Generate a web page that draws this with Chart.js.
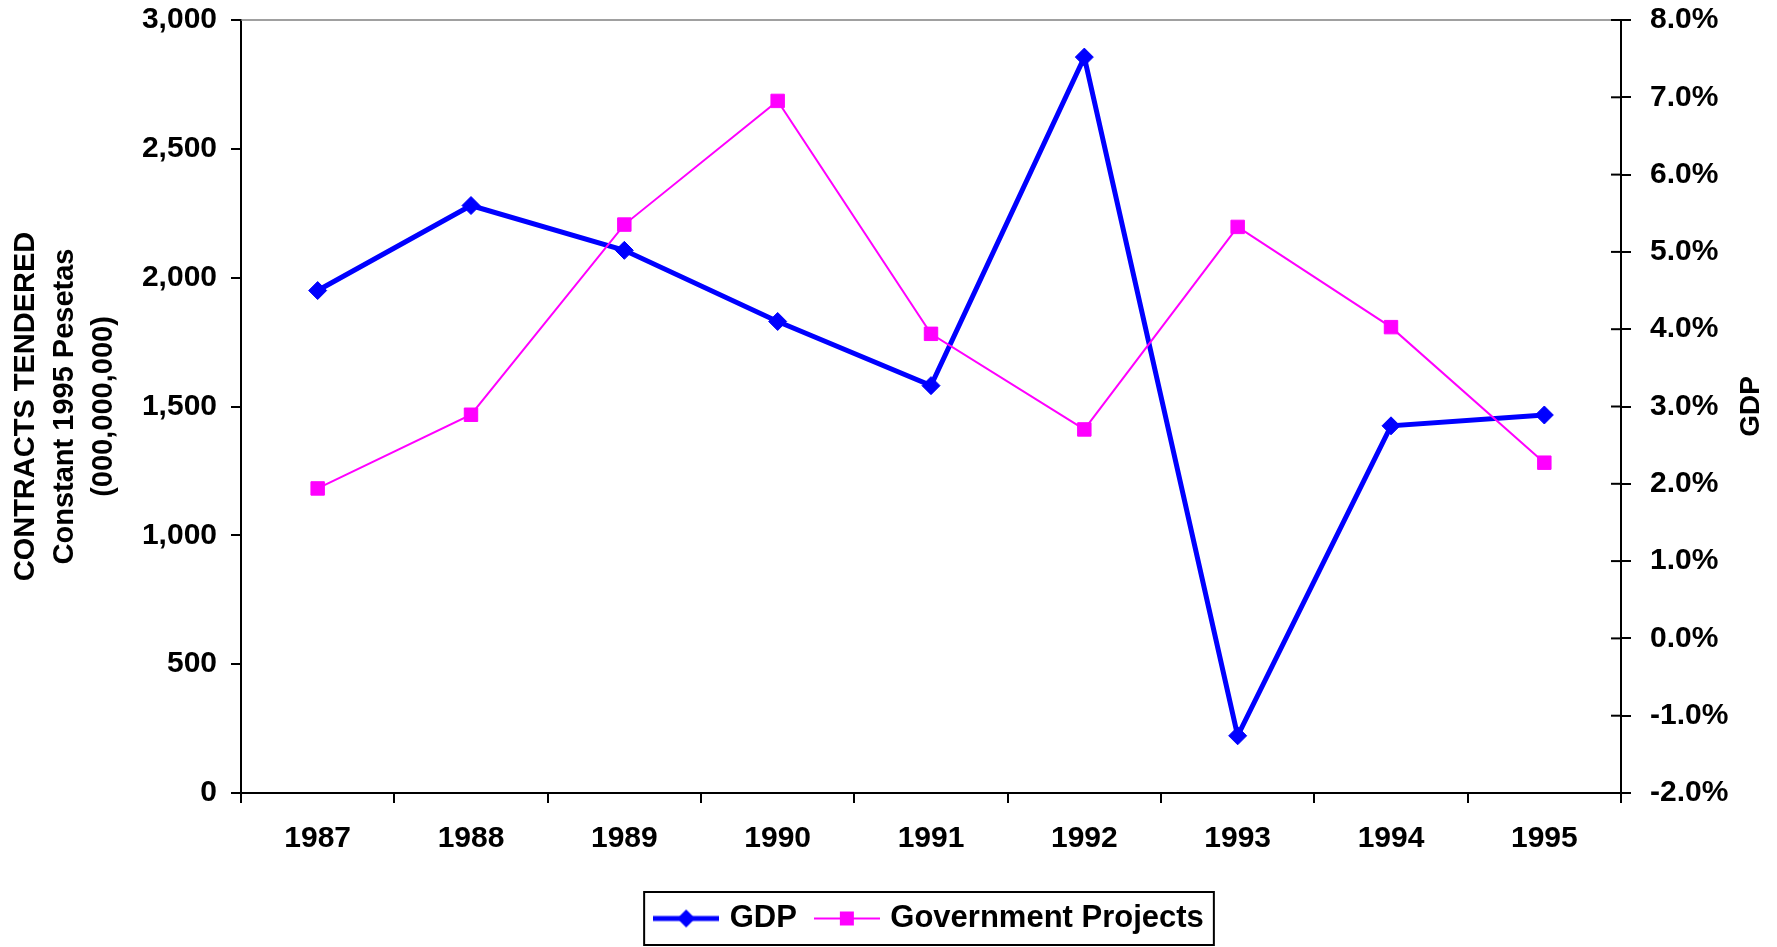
<!DOCTYPE html>
<html>
<head>
<meta charset="utf-8">
<script src="https://cdn.jsdelivr.net/npm/chart.js@4/dist/chart.umd.min.js"></script>
<style>
  html, body { margin: 0; padding: 0; background: #fff; }
  #wrap { width: 1777px; height: 947px; position: relative; }
</style>
</head>
<body>
<div id="wrap"><canvas id="c" width="1777" height="947"></canvas></div>
<script>
// ---- Data ----
const years = ['1987', '1988', '1989', '1990', '1991', '1992', '1993', '1994', '1995'];
const gdpPct = [4.5, 5.6, 5.02, 4.1, 3.27, 7.52, -1.26, 2.75, 2.89];
const govProjects = [1182, 1468, 2206, 2686, 1782, 1411, 2197, 1808, 1282];
const leftTitle = ['CONTRACTS TENDERED', 'Constant 1995 Pesetas', '(000,000,000)'];
const rightTitle = 'GDP';
const seriesNames = ['GDP', 'Government Projects'];

const FONT = '"Liberation Sans", Arial, sans-serif';
const TICK_FONT = { family: FONT, size: 30, weight: 'bold' };

function legendSample(color, lineW, style, r) {
  const c = document.createElement('canvas');
  c.width = 66; c.height = 24;
  const g = c.getContext('2d');
  g.strokeStyle = color; g.fillStyle = color; g.lineWidth = lineW;
  g.beginPath(); g.moveTo(0, 12); g.lineTo(66, 12); g.stroke();
  g.beginPath();
  if (style === 'diamond') {
    g.moveTo(33 - r, 12); g.lineTo(33, 12 - r); g.lineTo(33 + r, 12); g.lineTo(33, 12 + r); g.closePath();
  } else {
    g.rect(33 - r, 12 - r, 2 * r, 2 * r);
  }
  g.fill();
  return c;
}
const samples = [legendSample('#0000FF', 5, 'diamond', 9), legendSample('#FF00FF', 2, 'square', 7)];

const extras = {
  id: 'extras',
  afterDraw(chart) {
    const ctx = chart.ctx;
    const a = chart.chartArea;
    ctx.save();
    // top plot border
    ctx.strokeStyle = '#808080'; ctx.lineWidth = 1.5;
    ctx.beginPath(); ctx.moveTo(a.left, a.top); ctx.lineTo(a.right, a.top); ctx.stroke();
    // inner half of the right axis tick marks
    const y1 = chart.scales.y1;
    ctx.strokeStyle = '#000'; ctx.lineWidth = 2;
    y1.ticks.forEach((t, i) => {
      const py = y1.getPixelForTick(i);
      ctx.beginPath(); ctx.moveTo(y1.left - 10, py); ctx.lineTo(y1.left, py); ctx.stroke();
    });
    // right axis title, reading bottom to top
    ctx.fillStyle = '#000';
    ctx.font = 'bold 28px ' + FONT;
    ctx.textAlign = 'center'; ctx.textBaseline = 'middle';
    ctx.translate(y1.right - 26, (a.top + a.bottom) / 2);
    ctx.rotate(-Math.PI / 2);
    ctx.fillText(rightTitle, 0, 0);
    ctx.restore();
    // legend border
    const lg = chart.legend;
    if (lg && lg.legendHitBoxes && lg.legendHitBoxes.length) {
      const hb = lg.legendHitBoxes;
      const l = Math.min(...hb.map(h => h.left)) - 14;
      const r = Math.max(...hb.map(h => h.left + h.width)) + 10;
      const t = Math.min(...hb.map(h => h.top)) - 11;
      const b = Math.max(...hb.map(h => h.top + h.height)) + 11;
      ctx.save();
      ctx.strokeStyle = '#000'; ctx.lineWidth = 2;
      ctx.strokeRect(l, t, r - l, b - t);
      ctx.restore();
    }
  }
};

function fitY(width) {
  return function (s) {
    s.width = width;
    s.paddingTop = 0;
    s.paddingBottom = 0;
  };
}

new Chart(document.getElementById('c'), {
  type: 'line',
  data: {
    labels: years,
    datasets: [
      {
        label: seriesNames[0],
        data: gdpPct,
        yAxisID: 'y1',
        borderColor: '#0000FF',
        backgroundColor: '#0000FF',
        borderWidth: 5,
        pointStyle: 'rectRot',
        pointRadius: 9,
        pointBorderWidth: 1,
        tension: 0,
        order: 1
      },
      {
        label: seriesNames[1],
        data: govProjects,
        yAxisID: 'y',
        borderColor: '#FF00FF',
        backgroundColor: '#FF00FF',
        borderWidth: 2,
        pointStyle: 'rect',
        pointRadius: 9.5,
        pointBorderWidth: 1,
        tension: 0,
        order: 0
      }
    ]
  },
  options: {
    responsive: false,
    animation: false,
    devicePixelRatio: 1,
    layout: { padding: { top: 20, left: 0, right: 0, bottom: 3 } },
    plugins: {
      tooltip: { enabled: false },
      title: { display: false },
      legend: {
        display: true,
        position: 'bottom',
        fullSize: false,
        labels: {
          usePointStyle: true,
          pointStyleWidth: 56,
          padding: 22,
          color: '#000',
          font: { family: FONT, size: 31, weight: 'bold' },
          sort: (a, b) => a.datasetIndex - b.datasetIndex,
          generateLabels(chart) {
            const items = Chart.defaults.plugins.legend.labels.generateLabels(chart);
            items.forEach(it => { it.pointStyle = samples[it.datasetIndex]; });
            return items;
          }
        }
      }
    },
    scales: {
      x: {
        type: 'category',
        offset: true,
        afterFit(s) { s.height = 88; s.paddingLeft = 0; s.paddingRight = 0; },
        grid: {
          offset: true, drawOnChartArea: false, drawTicks: true,
          tickLength: 10, color: '#000', tickColor: '#000', lineWidth: 2
        },
        border: { display: true, color: '#000', width: 2 },
        ticks: { color: '#000', padding: 18, maxRotation: 0, font: TICK_FONT }
      },
      y: {
        position: 'left',
        min: 0, max: 3000,
        afterFit: fitY(241),
        grid: {
          drawOnChartArea: false, drawTicks: true,
          tickLength: 10, color: '#000', tickColor: '#000', lineWidth: 2
        },
        border: { display: true, color: '#000', width: 2 },
        ticks: {
          stepSize: 500, color: '#000', padding: 14, font: TICK_FONT,
          callback: v => v.toLocaleString('en-US')
        },
        title: {
          display: true,
          text: leftTitle,
          color: '#000',
          padding: { top: 6, bottom: 0 },
          font: { family: FONT, size: 29, weight: 'bold', lineHeight: 1.35 }
        }
      },
      y1: {
        position: 'right',
        min: -2, max: 8,
        afterFit: fitY(156),
        grid: {
          drawOnChartArea: false, drawTicks: true,
          tickLength: 10, color: '#000', tickColor: '#000', lineWidth: 2
        },
        border: { display: true, color: '#000', width: 2 },
        ticks: {
          stepSize: 1, color: '#000', padding: 19, font: TICK_FONT,
          callback: v => v.toFixed(1) + '%'
        },
        title: { display: false }
      }
    }
  },
  plugins: [extras]
});
</script>
</body>
</html>
